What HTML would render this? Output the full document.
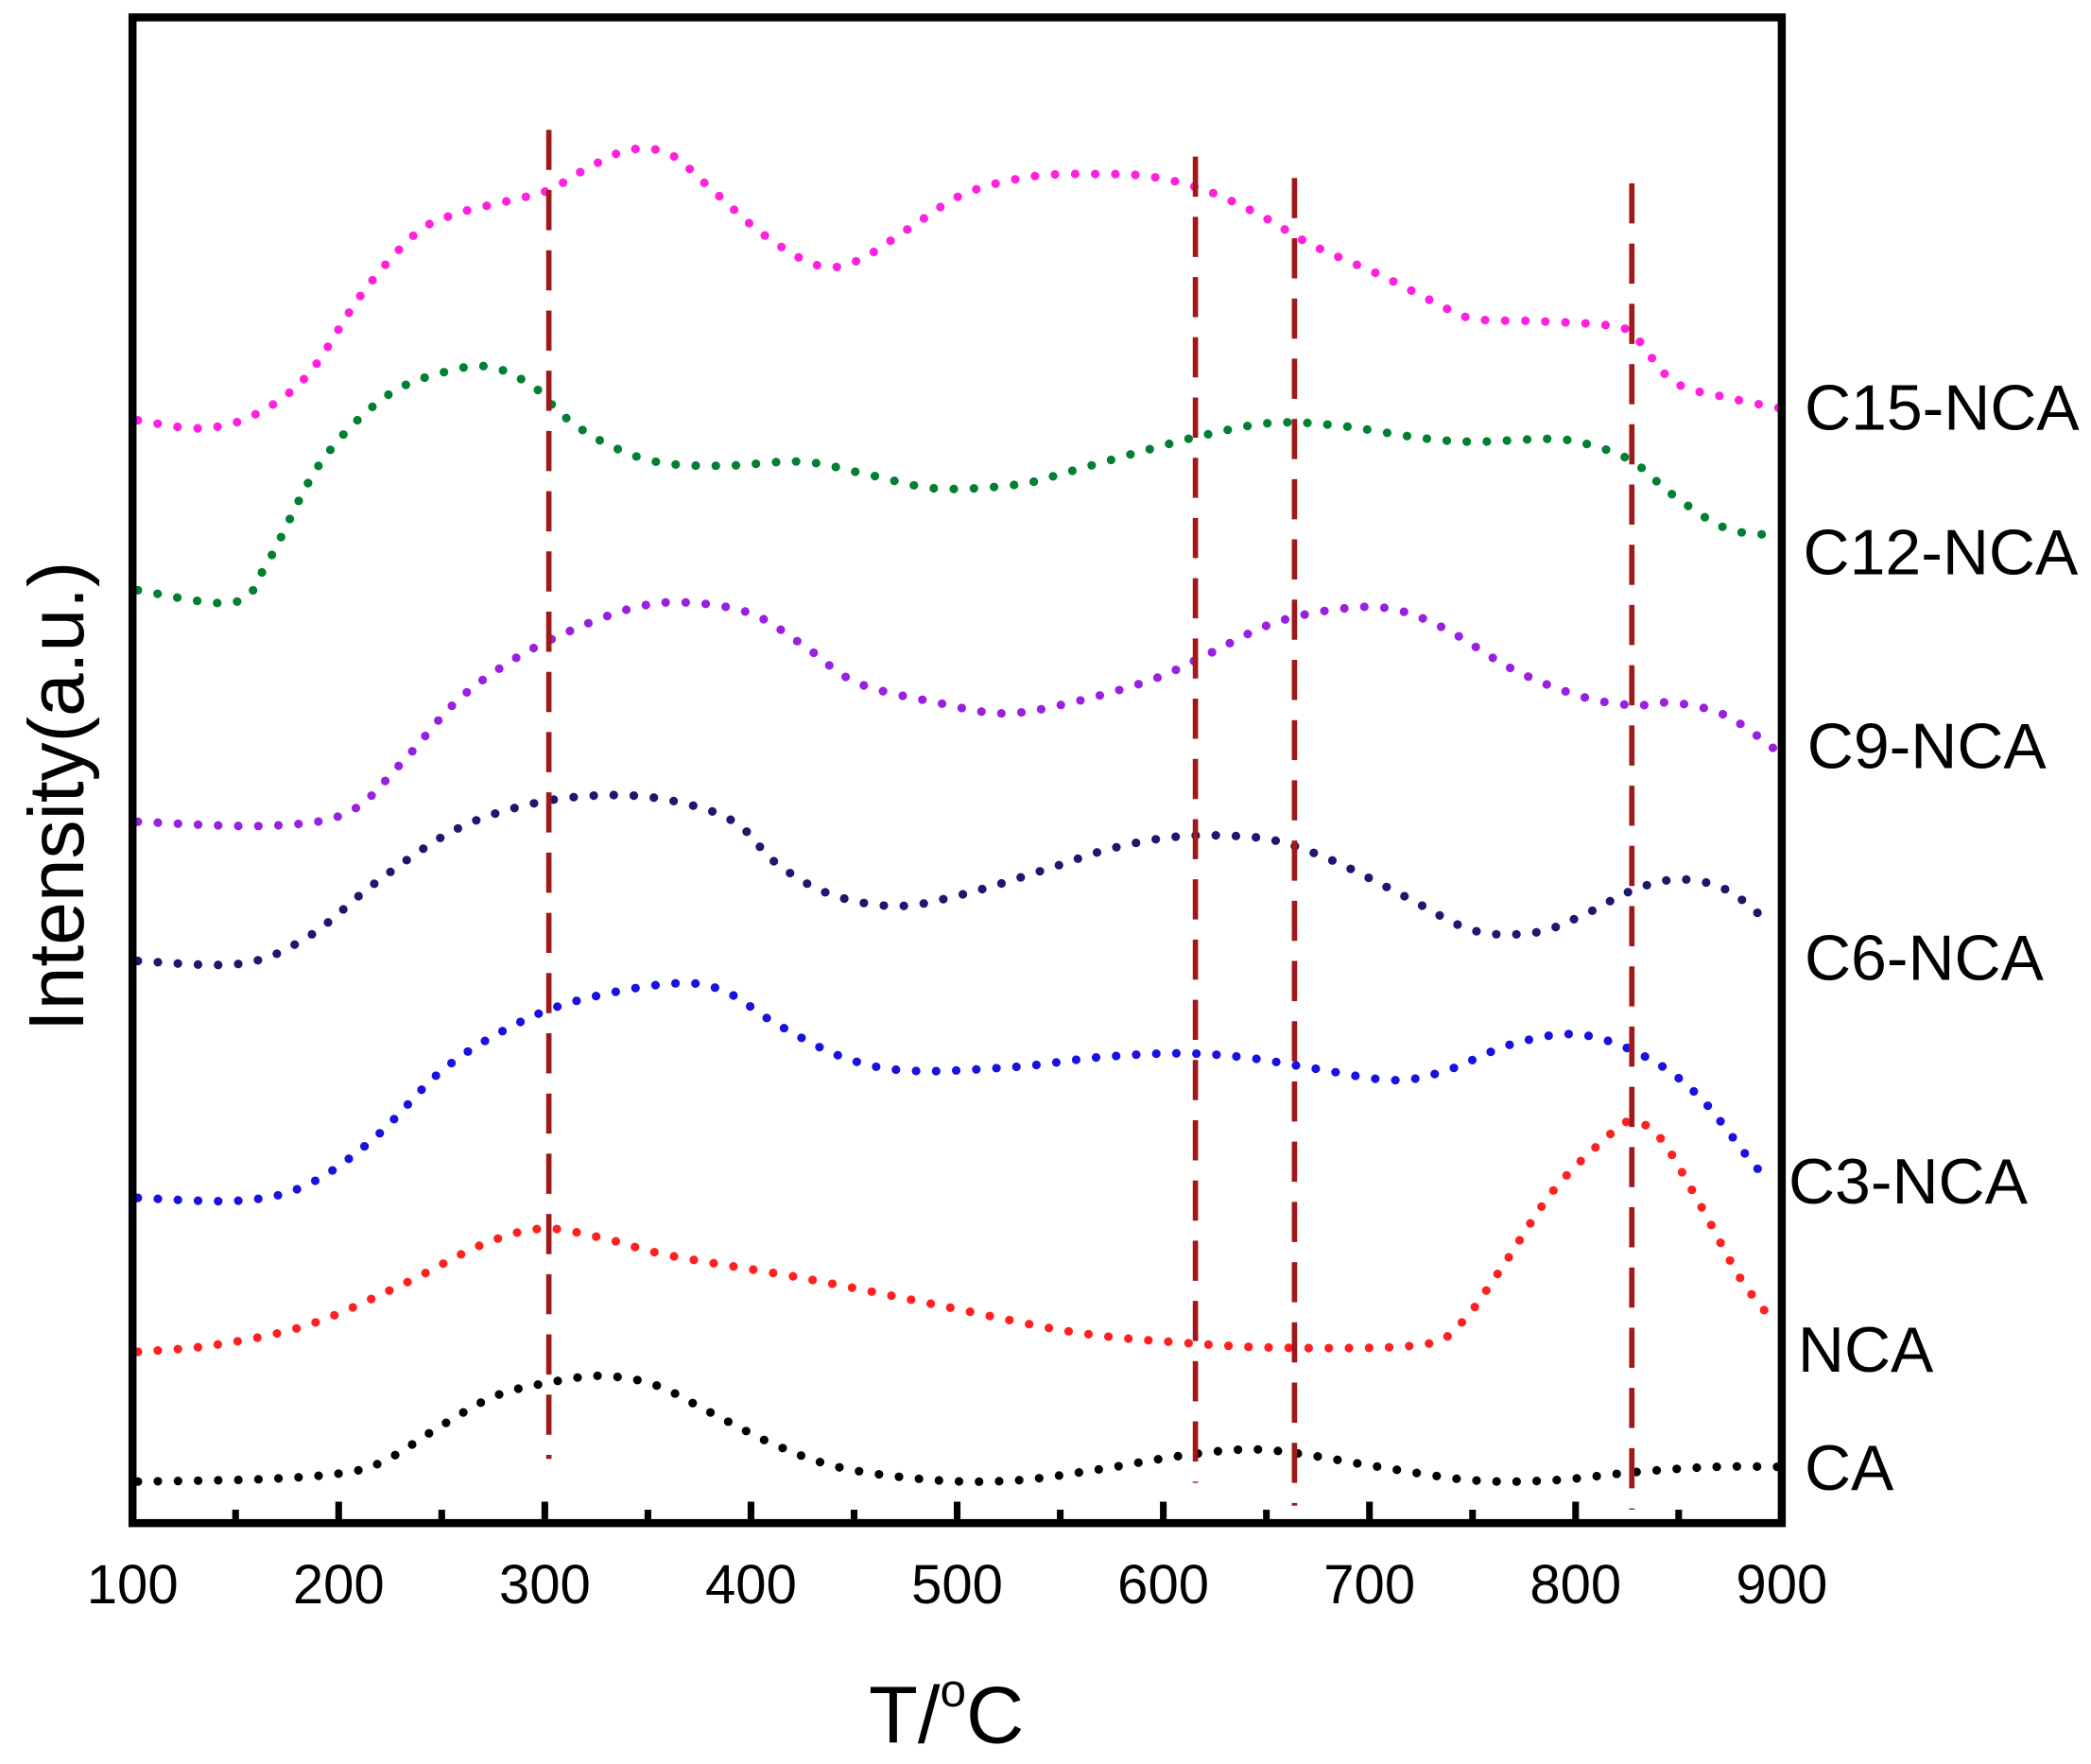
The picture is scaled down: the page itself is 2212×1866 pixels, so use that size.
<!DOCTYPE html>
<html><head><meta charset="utf-8"><style>
html,body{margin:0;padding:0;background:#fff}
svg{display:block}
text{font-family:"Liberation Sans",Arial,sans-serif;fill:#000}
</style></head><body>
<svg id="s" width="2212" height="1866" viewBox="0 0 1562 1318" preserveAspectRatio="none" xmlns="http://www.w3.org/2000/svg">
<rect width="1562" height="1318" fill="#fff"/>
<g id="curves" fill="none" stroke-linecap="round" stroke-dasharray="0 15" stroke-width="6.5"></g>
<g stroke="#a01818" stroke-width="4" stroke-dasharray="30 15">
<line x1="410" y1="97" x2="410" y2="1090"/>
<line x1="893" y1="117" x2="893" y2="1108"/>
<line x1="967" y1="133" x2="967" y2="1125"/>
<line x1="1219" y1="137" x2="1219" y2="1128"/>
</g>
<rect x="99" y="13" width="1232" height="1125" fill="none" stroke="#000" stroke-width="6"/>
<g id="ticks" stroke="#000" stroke-width="5"></g>
<g font-size="41" text-anchor="middle" id="tl"></g>
<g font-size="48">
<text x="1348" y="321">C15-NCA</text>
<text x="1347" y="429">C12-NCA</text>
<text x="1350" y="574">C9-NCA</text>
<text x="1348" y="732">C6-NCA</text>
<text x="1336" y="899">C3-NCA</text>
<text x="1343" y="1025">NCA</text>
<text x="1348" y="1113">CA</text>
</g>
<text x="707" y="1302" font-size="60" text-anchor="middle">T/<tspan font-size="35" dy="-27">o</tspan><tspan dy="27">C</tspan></text>
<text transform="translate(62,595) rotate(-90)" font-size="58" text-anchor="middle">Intensity(a.u.)</text>
</svg>
<script>
var ns="http://www.w3.org/2000/svg";
var data=[
["#000",[[103,1107],[200,1105],[260,1100],[290,1090],[330,1065],[370,1043],[410,1033],[450,1028],[490,1035],[530,1055],[580,1080],[630,1097],[700,1106],[760,1106],[820,1098],[880,1088],[930,1083],[970,1086],[1030,1096],[1100,1106],[1160,1106],[1220,1100],[1280,1096],[1330,1096]]],
["#ff2020",[[103,1010],[160,1005],[230,990],[300,960],[360,930],[405,918],[450,925],[500,938],[600,955],[700,975],[800,995],[880,1003],[960,1007],[1060,1005],[1090,990],[1120,950],[1160,890],[1200,850],[1218,838],[1240,850],[1270,900],[1300,955],[1327,990]]],
["#1a10e0",[[103,895],[180,897],[230,885],[280,850],[330,800],[380,768],[430,748],[500,735],[540,740],[580,765],[630,790],[680,800],[760,797],[820,790],[880,787],[930,790],[980,798],[1040,807],[1080,800],[1130,780],[1180,773],[1230,790],[1270,820],[1310,870],[1322,880]]],
["#1c1870",[[103,718],[180,720],[230,700],[280,660],[340,620],[400,600],[460,594],[510,600],[550,615],[580,645],[620,668],[670,677],[720,668],[780,650],[830,634],[880,625],[930,625],[960,630],[1000,645],[1050,670],[1100,695],[1145,697],[1180,685],[1220,665],[1255,657],[1290,665],[1322,690]]],
["#9a20e0",[[103,614],[200,617],[260,607],[300,570],[340,525],[380,495],[420,474],[470,455],[510,450],[560,458],[600,482],[640,510],[700,525],[750,533],[800,525],[860,508],[900,490],[950,466],[1000,455],[1040,455],[1080,470],[1130,500],[1180,520],[1220,527],[1250,525],[1290,535],[1330,563]]],
["#008030",[[103,441],[175,450],[200,420],[240,345],[290,295],[340,276],[370,275],[400,290],[420,310],[450,330],[490,345],[540,348],[600,345],[650,355],[700,365],[760,362],[800,352],[850,338],[900,325],[950,316],[1000,318],[1060,327],[1100,330],[1160,328],[1190,333],[1220,345],[1250,370],[1290,395],[1330,400]]],
["#ff20e0",[[103,314],[150,320],[190,310],[230,280],[270,220],[310,175],[340,160],[380,150],[410,142],[440,125],[470,112],[500,115],[530,140],[570,175],[610,198],[640,195],[680,170],[720,145],[770,132],[820,130],[860,132],[900,142],[940,160],[980,183],[1030,205],[1070,225],[1100,238],[1150,240],[1200,243],[1220,250],[1250,285],[1290,297],[1330,305]]]
];
var g=document.getElementById("curves");
data.forEach(function(d){
 var p=d[1],s="M"+p[0][0]+","+p[0][1];
 for(var i=0;i<p.length-1;i++){
  var p0=p[i-1]||p[i],p1=p[i],p2=p[i+1],p3=p[i+2]||p2;
  s+=" C"+(p1[0]+(p2[0]-p0[0])/6)+","+(p1[1]+(p2[1]-p0[1])/6)+" "+(p2[0]-(p3[0]-p1[0])/6)+","+(p2[1]-(p3[1]-p1[1])/6)+" "+p2[0]+","+p2[1];
 }
 var e=document.createElementNS(ns,"path");e.setAttribute("d",s);e.setAttribute("stroke",d[0]);g.appendChild(e);
});
var t=document.getElementById("ticks"),tl=document.getElementById("tl");
for(var v=100;v<=900;v+=50){
 var x=99+(v-100)*1.54,maj=v%100==0;
 var l=document.createElementNS(ns,"line");
 l.setAttribute("x1",x);l.setAttribute("x2",x);l.setAttribute("y1",1138);l.setAttribute("y2",maj?1122:1128);t.appendChild(l);
 if(maj){var tx=document.createElementNS(ns,"text");tx.setAttribute("x",x);tx.setAttribute("y",1198);tx.textContent=v;tl.appendChild(tx);}
}
</script>
</body></html>
